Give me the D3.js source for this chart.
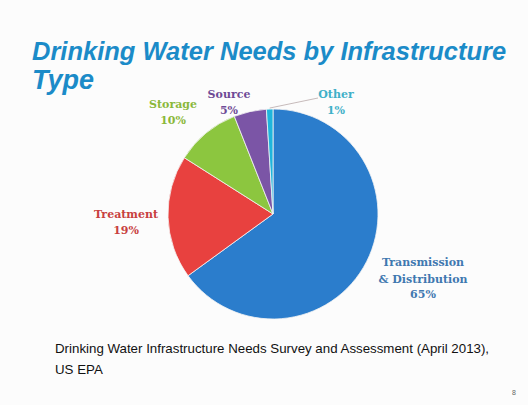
<!DOCTYPE html>
<html>
<head>
<meta charset="utf-8">
<script src="https://cdn.jsdelivr.net/npm/d3@7"></script>
<style>
  body { margin: 0; background: #fcfcfc; }
  svg { display: block; }
</style>
</head>
<body>
<div id="chart"></div>
<script>
  // data
  const categories = ["Transmission & Distribution", "Treatment", "Storage", "Source", "Other"];
  const shares = [65, 19, 10, 5, 1];
  const colors = ["#2b7dcc", "#e8413f", "#8cc63f", "#7b55a6", "#1fb5dc"];
  const labelColors = ["#3f78b0", "#c8403e", "#8ab83a", "#6e4a96", "#3fb0c8"];

  const width = 528;
  const height = 405;
  const cx = 273, cy = 214, radius = 105;

  const svg = d3.select("#chart")
    .append("svg")
    .attr("width", width)
    .attr("height", height);

  svg.append("rect")
    .attr("width", width)
    .attr("height", height)
    .attr("fill", "#fcfcfc");

  // title
  const titleStyle = sel => sel
    .style("font-family", "Liberation Sans, Arial, sans-serif")
    .style("font-weight", "bold")
    .style("font-style", "italic")
    .style("font-size", "25.5px")
    .attr("fill", "#1b8bc8");

  svg.append("text")
    .attr("x", 32)
    .attr("y", 60)
    .call(titleStyle)
    .text("Drinking Water Needs by Infrastructure");

  svg.append("text")
    .attr("x", 32)
    .attr("y", 89)
    .call(titleStyle)
    .style("font-size", "27px")
    .text("Type");

  const data = categories.map((c, i) => ({ name: c, value: shares[i], color: colors[i], labelColor: labelColors[i] }));

  const pie = d3.pie()
    .value(d => d.value)
    .sort(null);

  const arc = d3.arc()
    .innerRadius(0)
    .outerRadius(radius);

  const g = svg.append("g")
    .attr("transform", `translate(${cx},${cy})`);

  const arcs = pie(data);

  g.selectAll("path")
    .data(arcs)
    .enter()
    .append("path")
    .attr("d", arc)
    .attr("fill", d => d.data.color)
    .attr("stroke", "#f4f4f4")
    .attr("stroke-width", 0.8);

  // label positions (offset from pie centre)
  const labelSpots = {
    "Transmission & Distribution": { x: 150, y: 52, lines: ["Transmission", "& Distribution"] },
    "Treatment": { x: -147, y: 4, lines: ["Treatment"] },
    "Storage": { x: -100, y: -106, lines: ["Storage"] },
    "Source": { x: -44, y: -116, lines: ["Source"] },
    "Other": { x: 63, y: -116, lines: ["Other"] }
  };

  // leader line for the tiny "Other" slice
  const otherArc = arcs[4];
  const otherMid = (otherArc.startAngle + otherArc.endAngle) / 2;
  g.append("line")
    .attr("x1", Math.sin(otherMid) * (radius + 1))
    .attr("y1", -Math.cos(otherMid) * (radius + 1))
    .attr("x2", labelSpots.Other.x - 18)
    .attr("y2", labelSpots.Other.y)
    .attr("stroke", "#b9a9a9")
    .attr("stroke-width", 0.8);

  arcs.forEach(a => {
    const spot = labelSpots[a.data.name];
    const t = g.append("text")
      .attr("text-anchor", "middle")
      .attr("x", spot.x)
      .attr("y", spot.y)
      .style("font-family", "DejaVu Serif, Liberation Serif, serif")
      .style("font-weight", "bold")
      .style("font-size", "11px")
      .attr("fill", a.data.labelColor);
    spot.lines.forEach((l, i) => {
      t.append("tspan").attr("x", spot.x).attr("dy", i === 0 ? 0 : 16.5).text(l);
    });
    t.append("tspan").attr("x", spot.x).attr("dy", 15.5).text(a.data.value + "%");
  });

  // source note
  const note = svg.append("text")
    .attr("x", 55)
    .attr("y", 353)
    .style("font-family", "Liberation Sans, Arial, sans-serif")
    .style("font-size", "13.3px")
    .attr("fill", "#111");
  note.append("tspan").attr("x", 55).text("Drinking Water Infrastructure Needs Survey and Assessment (April 2013),");
  note.append("tspan").attr("x", 55).attr("dy", 21).text("US EPA");

  svg.append("text")
    .attr("x", 512)
    .attr("y", 395)
    .style("font-family", "Liberation Sans, Arial, sans-serif")
    .style("font-size", "7px")
    .attr("fill", "#666")
    .text("8");
</script>
</body>
</html>
